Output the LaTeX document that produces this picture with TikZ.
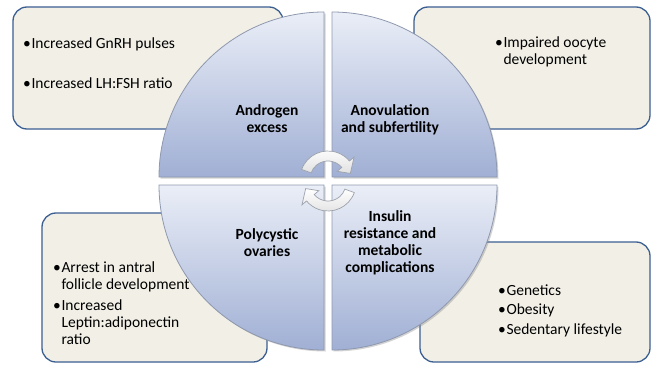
\documentclass[tikz,border=0pt]{standalone}
\usepackage{fontspec}
\setmainfont{Carlito}
\usetikzlibrary{shadows}

\definecolor{boxfill}{HTML}{F1EFE6}
\definecolor{boxrand}{HTML}{3C5F92}
\definecolor{segoben}{HTML}{EAEEF7}
\definecolor{segunten}{HTML}{A0AFD4}
\definecolor{segrand}{HTML}{8E98AE}
\definecolor{pfeilrand}{HTML}{9CA2AC}

\tikzset{
	infobox/.style={draw=boxrand, line width=1.3pt, fill=boxfill, rounded corners=14pt},
	segment/.style={draw=segrand, line width=0.8pt, top color=segoben, bottom color=segunten,
		drop shadow={shadow xshift=1.5pt, shadow yshift=-1.5pt, opacity=0.35}},
	segtext/.style={font=\fontsize{15.5}{17}\selectfont\bfseries, align=center},
	punkt/.style={anchor=west, align=left, font=\fontsize{15.5}{17}\selectfont},
	kreispfeil/.style={draw=pfeilrand, line width=0.7pt, top color=white, bottom color=black!12}
}
\newcommand{\bul}{\llap{•\kern0.8pt}}

\begin{document}
\begin{tikzpicture}[x=1pt, y=1pt]
	\useasboundingbox (-328,-183) rectangle (324,181);

	% Kaesten hinten
	\draw[infobox] (-315,52) rectangle (-45,174);
	\draw[infobox] (86,52) rectangle (322,174);
	\draw[infobox] (-286,-181) rectangle (-61,-32);
	\draw[infobox] (92,-181) rectangle (322,-61);

	% Viertelkreise
	\foreach \sx/\sy/\w in {-1/1/90, 1/1/0, -1/-1/180, 1/-1/270}
		\draw[segment, shift={(4*\sx,4*\sy)}] (0,0) -- (\w:165)
			arc[start angle=\w, delta angle=90, radius=165] -- cycle;

	% Beschriftung Segmente
	\node[segtext] (androgen) at (-61,62) {Androgen\\excess};
	\node[segtext] (anovul) at (62,61) {Anovulation\\and subfertility};
	\node[segtext] (poly) at (-61,-62) {Polycystic\\ovaries};
	\node[segtext] (insulin) at (62,-62) {Insulin\\resistance and\\metabolic\\complications};

	% Aufzaehlungen
	\node[punkt] (gnrh) at (-300,137) {\bul Increased GnRH pulses};
	\node[punkt] (lhfsh) at (-300,98) {\bul Increased LH:FSH ratio};
	\node[punkt] (oocyte) at (172,129.5) {\bul Impaired oocyte\\development};
	\node[punkt] (antral) at (-270,-95.5) {\bul Arrest in antral\\follicle development};
	\node[punkt] (leptin) at (-270,-141) {\bul Increased\\Leptin:adiponectin\\ratio};
	\node[punkt] (genetik) at (175,-109) {\bul Genetics};
	\node[punkt] (obes) at (175,-129) {\bul Obesity};
	\node[punkt] (sedent) at (175,-149) {\bul Sedentary lifestyle};

	% Kreispfeile in der Mitte
	\begin{scope}[shift={(0,2)}]
		\draw[kreispfeil] (160:28) arc[start angle=160, end angle=40, radius=28]
			-- (40:34) -- (14:23) -- (40:12) -- (40:18)
			arc[start angle=40, end angle=160, radius=18] -- cycle;
	\end{scope}
	\begin{scope}[shift={(0,-2)}]
		\draw[kreispfeil] (340:28) arc[start angle=340, end angle=220, radius=28]
			-- (220:34) -- (194:23) -- (220:12) -- (220:18)
			arc[start angle=220, end angle=340, radius=18] -- cycle;
	\end{scope}
\end{tikzpicture}
\end{document}
